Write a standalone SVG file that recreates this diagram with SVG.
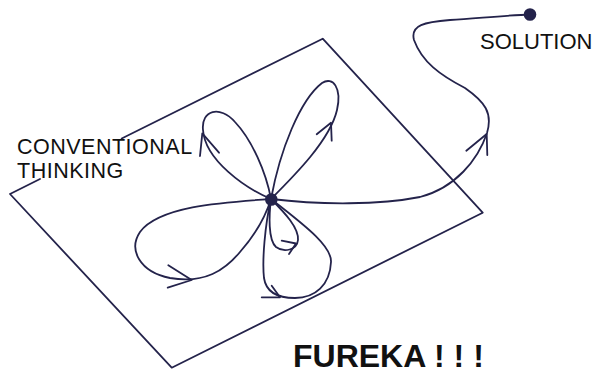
<svg xmlns="http://www.w3.org/2000/svg" width="592" height="372" viewBox="0 0 592 372">
<style>
.ln{fill:none;stroke:#24234b;stroke-width:1.8;stroke-linejoin:round;stroke-linecap:round}
.dot{fill:#24234b}
.lbl{font-family:"Liberation Sans",Arial,sans-serif;fill:#111}
.big{font-family:"Liberation Sans",Arial,sans-serif;font-weight:bold;fill:#111}
</style>
<rect width="592" height="372" fill="#fff"/>
<g id="plane">
<path class="ln" d="M121.7,138.5 L322.7,38.7 L482.7,212.7 L171.7,367.7 L10,194 L40,179"/>
</g>
<g id="connectors">
<g id="loop-top-left">
<path class="ln" d="M271,199 C245,188 205,160 203,130 C201,110 220,105 235,122 C252,140 266,172 271,199"/>
<path class="ln" d="M200,156 L202.3,133.3 L219,152.7"/>
</g>
<g id="loop-top-right">
<path class="ln" d="M271,199 C295,175 330,140 337,110 C342,88 333,76 322,83 C300,100 280,150 271,199"/>
<path class="ln" d="M316.7,134.3 L331,122.7 L331.7,140.7"/>
</g>
<g id="loop-left">
<path class="ln" d="M271,199 C230,202 160,205 140,232 C128,250 140,272 170,278 C205,284 225,270 240,252 C255,235 266,215 271,199"/>
<path class="ln" d="M168.3,265.3 L191.7,280 L167.7,287.7"/>
</g>
<g id="loop-bottom-small">
<path class="ln" d="M271,199 C269,215 268,240 276,247 C284,253 297,250 298,240 C299,228 285,213 271,199"/>
<path class="ln" d="M281.7,240.7 L296,243.5 L289,254"/>
</g>
<g id="loop-bottom">
<path class="ln" d="M271,199 C265,225 262,260 264,278 C266,292 278,298 295,298 C315,298 330,285 331,262 C332,245 300,222 271,199"/>
<path class="ln" d="M261.7,297.3 L280,297.3 L271.7,285.7"/>
</g>
<g id="path-to-solution">
<path class="ln" d="M271,199 C320,205 380,205 420,197 C455,188 478,160 487,133 C493,113 485,102 465,88 C440,75 422,62 414,40 C410,25 425,22 450,20 C480,18 510,15 530,14.5"/>
<path class="ln" d="M466.3,150.7 L486.7,134 L487.3,155"/>
</g>
</g>
<g id="start">
<circle class="dot" cx="271.3" cy="199.5" r="6.3"/>
</g>
<g id="solution">
<circle class="dot" cx="530" cy="14.5" r="6.3"/>
<text class="lbl" x="480" y="49" font-size="22">SOLUTION</text>
</g>
<g id="conventional-thinking">
<text class="lbl" font-size="21.5" letter-spacing="0.5"><tspan x="17" y="154">CONVENTIONAL</tspan><tspan x="17" y="178">THINKING</tspan></text>
</g>
<g id="fureka">
<text class="big" x="293" y="366.5" font-size="32">FUREKA ! ! !</text>
</g>
</svg>
